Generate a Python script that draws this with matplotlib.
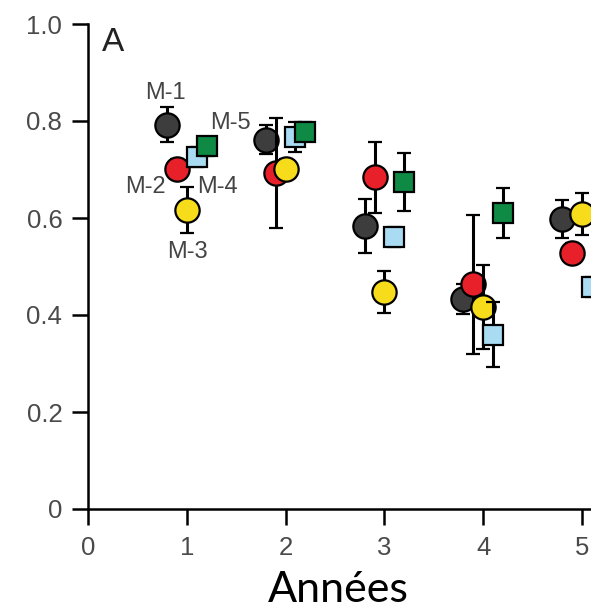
import numpy as np
import matplotlib
matplotlib.use("Agg")
import matplotlib.pyplot as plt

# data
years = np.array([1, 2, 3, 4, 5])
names = ["M-1", "M-2", "M-3", "M-4", "M-5"]
offsets = [-0.2, -0.1, 0.0, 0.1, 0.2]
m1 = [0.792, 0.761, 0.583, 0.433, 0.598]
m1_err = [0.036, 0.030, 0.056, 0.030, 0.040]
m2 = [0.701, 0.693, 0.684, 0.463, 0.528]
m2_err = [0.02, 0.113, 0.073, 0.143, 0.02]
m3 = [0.616, 0.701, 0.448, 0.417, 0.608]
m3_err = [0.047, 0.02, 0.043, 0.087, 0.044]
m4 = [0.726, 0.767, 0.561, 0.359, 0.458]
m4_err = [0.02, 0.03, 0.02, 0.067, 0.02]
m5 = [0.748, 0.778, 0.675, 0.610, np.nan]
m5_err = [0.02, 0.02, 0.060, 0.052, np.nan]

values = [m1, m2, m3, m4, m5]
errors = [m1_err, m2_err, m3_err, m4_err, m5_err]
colors = ["#3d3d3d", "#e8202a", "#f7dc1c", "#a9dcf2", "#0e8a45"]
markers = ["o", "o", "o", "s", "s"]
sizes = [17.5, 17.5, 17.5, 15, 15]

plt.rcParams["font.family"] = ["Liberation Sans", "DejaVu Sans"]

fig = plt.figure(figsize=(5.91, 6.09), dpi=100)
# axes runs past the right edge, like the cropped original
ax = fig.add_axes([88 / 591, 100 / 609, 5.5 * 98.8 / 591, 485 / 609])

for i in range(5):
    ax.errorbar(years + offsets[i], values[i], yerr=errors[i], fmt=markers[i],
                ms=sizes[i], mfc=colors[i], mec="black", mew=1.6,
                ecolor="black", elinewidth=2.2, capsize=5, capthick=2.2,
                zorder=3 + i)

ax.set_xlim(0, 5.5)
ax.set_ylim(0, 1.0)
ax.set_xticks([0, 1, 2, 3, 4, 5])
ax.set_yticks([0, 0.2, 0.4, 0.6, 0.8, 1.0])
ax.set_yticklabels(["0", "0.2", "0.4", "0.6", "0.8", "1.0"])

for s in ["top", "right"]:
    ax.spines[s].set_visible(False)
for s in ["left", "bottom"]:
    ax.spines[s].set_linewidth(1.8)
ax.tick_params(axis="both", length=11.5, width=1.8, labelsize=18.5, labelcolor="#4a4a4a")
ax.tick_params(axis="x", pad=8)
ax.tick_params(axis="y", pad=7)

# series labels next to the first group
lab_x = [0.78, 0.58, 1.01, 1.31, 1.44]
lab_y = [0.858, 0.664, 0.530, 0.664, 0.796]
for i in range(5):
    ax.text(lab_x[i], lab_y[i], names[i], ha="center", va="center",
            fontsize=17, color="#444444", zorder=10)

ax.text(0.25, 0.961, "A", ha="center", va="center", fontsize=24, color="#222222")

fig.text(338 / 591, 1 - 602 / 609, "Années", ha="center", va="baseline",
         fontsize=31, family=["Lato", "DejaVu Sans"], color="black")

fig.savefig("out.png", dpi=100)
